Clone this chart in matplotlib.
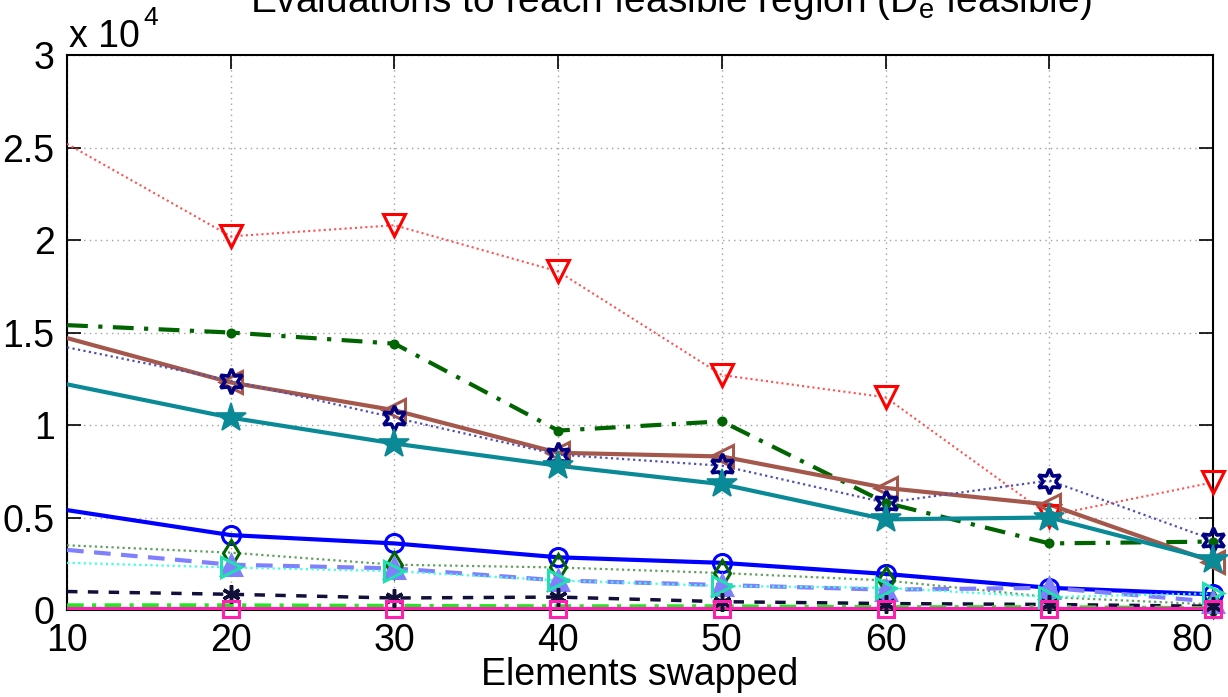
import matplotlib
matplotlib.use("Agg")
import matplotlib.pyplot as plt
from matplotlib.ticker import FuncFormatter

plt.rcParams['font.family'] = ['Liberation Sans', 'DejaVu Sans']

elements = [10, 20, 30, 40, 50, 60, 70, 80]

# evaluations needed (thousands) per configuration
red_vals = [25.2, 20.2, 20.8, 18.3, 12.7, 11.5, 5.1, 6.9]
dgreen_vals = [15.4, 15.0, 14.4, 9.7, 10.2, 5.8, 3.6, 3.7]
brown_vals = [14.7, 12.3, 10.8, 8.5, 8.3, 6.6, 5.7, 2.6]
navy_vals = [14.2, 12.4, 10.4, 8.4, 7.8, 5.8, 7.0, 3.8]
teal_vals = [12.2, 10.4, 9.0, 7.8, 6.8, 4.9, 5.0, 2.7]
blue_vals = [5.4, 4.05, 3.6, 2.85, 2.55, 1.95, 1.2, 0.85]
green_vals = [3.5, 3.1, 2.45, 2.3, 2.0, 1.6, 0.7, 0.3]
lavender_vals = [3.25, 2.45, 2.25, 1.6, 1.35, 1.1, 1.2, 0.45]
cyan_vals = [2.55, 2.3, 2.1, 1.6, 1.3, 1.2, 0.7, 0.9]
black_vals = [1.0, 0.85, 0.65, 0.7, 0.45, 0.35, 0.3, 0.2]
lime_vals = [0.25, 0.25, 0.22, 0.2, 0.2, 0.15, 0.15, 0.1]
magenta_vals = [0.06, 0.06, 0.06, 0.06, 0.06, 0.06, 0.06, 0.06]

fig = plt.figure(figsize=(12.28, 6.97), dpi=100)
ax = fig.add_axes([0.0546, 0.1248, 0.9332, 0.7962])

marks = list(range(1, len(elements)))

def series(vals, color, ls, lw, marker, ms, mfc='none', mec=None, mew=2.2, lcolor=None):
    ys = [v * 1000 for v in vals]
    ax.plot(elements, ys, color=lcolor or color, linestyle=ls, linewidth=lw, zorder=3)
    ax.plot([elements[i] for i in marks], [ys[i] for i in marks], linestyle='none',
            marker=marker, markersize=ms, markerfacecolor=mfc,
            markeredgecolor=mec or color, markeredgewidth=mew, clip_on=False, zorder=4)

series(red_vals, '#ff0000', (0, (1, 1.5)), 1.5, 'v', 16, lcolor='#ff5050')
series(dgreen_vals, '#006400', (0, (5, 2.5, 1, 2.5)), 3.0, 'o', 5, mfc='#006400')
series(brown_vals, '#a4584c', '-', 3.0, '<', 16)
series(navy_vals, '#000080', (0, (1, 1.5)), 1.6, (6, 1, 0), 18, mew=2.6, lcolor='#5050b0')
series(teal_vals, '#0a8a96', '-', 3.0, '*', 22, mfc='#0a8a96', mew=1.2)
series(blue_vals, '#0000ff', '-', 3.0, 'o', 13)
series(green_vals, '#006400', (0, (1, 1.5)), 1.6, 'd', 13, lcolor='#60a060')
series(lavender_vals, '#8080ff', (0, (4, 2.5)), 3.0, '^', 15, mfc='#8080ff')
series(cyan_vals, '#20e0b0', (0, (1, 1.5)), 1.6, '>', 15, lcolor='#40ffe0')
series(black_vals, '#10103a', (0, (3, 3)), 2.5, (6, 2, 0), 13, mew=2.5)
ax.plot(elements, [v * 1000 for v in lime_vals], color='#22e822',
        linestyle=(0, (4, 2, 1, 2)), linewidth=3.0, zorder=3)
series(magenta_vals, '#ff20b0', '-', 3.0, 's', 12)

ax.set_xlim(10, 80)
ax.set_ylim(0, 30000)
ax.set_xticks(elements)
ax.set_yticks([0, 5000, 10000, 15000, 20000, 25000, 30000])
ax.yaxis.set_major_formatter(FuncFormatter(lambda v, p: f"{v / 1e4:g}"))
ax.tick_params(direction='in', length=10, width=1.2, labelsize=27, pad=9,
               top=True, right=True, colors='black')
ax.get_xticklabels()[-1].set_horizontalalignment('right')
ax.grid(True, color='#a0a0a0', linestyle=(0, (1, 3)), linewidth=1.0)
for s in ax.spines.values():
    s.set_linewidth(1.5)

ax.set_xlabel('Elements swapped', fontsize=27, labelpad=-1)

ax.text(0.002, 1.0, 'x 10', transform=ax.transAxes, fontsize=27,
        ha='left', va='bottom')
ax.text(0.067, 1.045, '4', transform=ax.transAxes, fontsize=19,
        ha='left', va='bottom')

fig.text(0.546, 0.983, r'Evaluations to reach feasible region (D$_\mathregular{e}$ feasible)',
         fontsize=28, ha='center', va='baseline')

fig.savefig('out.png', dpi=100)
